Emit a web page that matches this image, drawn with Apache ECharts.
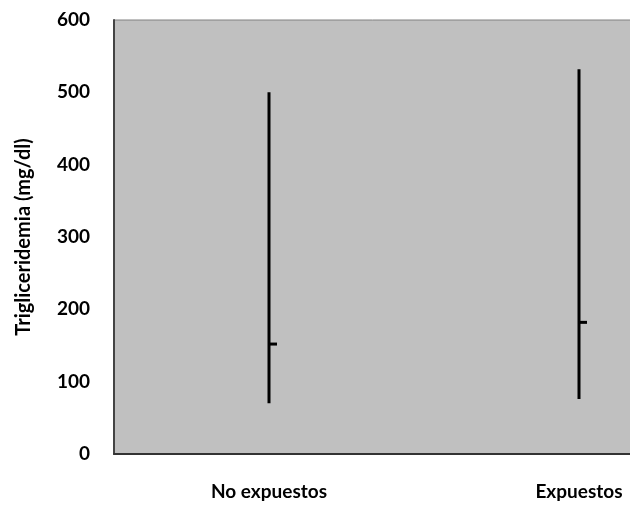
<!DOCTYPE html>
<html>
<head>
<meta charset="utf-8">
<script src="https://cdn.jsdelivr.net/npm/echarts@6/dist/echarts.min.js"></script>
<style>
  html, body { margin: 0; padding: 0; background: #fff; }
  #chart { width: 630px; height: 506px; }
</style>
</head>
<body>
<div id="chart"></div>
<script>
// Trigliceridemia range (min–max) and mean per group
const categories = ['No expuestos', 'Expuestos'];
const lowValues  = [70, 76];
const highValues = [500, 532];
const meanValues = [152, 182];
const yTicks = [0, 100, 200, 300, 400, 500, 600];

const FONT = 'Lato, "Open Sans", sans-serif';

const chart = echarts.init(document.getElementById('chart'), null, { renderer: 'canvas' });

const seriesData = categories.map((c, i) => [i, lowValues[i], highValues[i], meanValues[i]]);

chart.setOption({
  animation: false,
  grid: {
    left: 114, top: 20, width: 620, height: 434,
    outerBoundsMode: 'none',
    containLabel: false,
    show: true,
    backgroundColor: '#c0c0c0',
    borderColor: '#808080',
    borderWidth: 1
  },
  xAxis: {
    type: 'category',
    data: categories,
    boundaryGap: true,
    axisLine: { lineStyle: { color: '#333', width: 2 } },
    axisTick: { show: false },
    axisLabel: {
      color: '#000', fontFamily: FONT, fontWeight: 'bold', fontSize: 19,
      margin: 28
    }
  },
  yAxis: {
    type: 'value',
    min: yTicks[0], max: yTicks[yTicks.length - 1], interval: 100,
    name: 'Trigliceridemia (mg/dl)',
    nameLocation: 'middle',
    nameRotate: 90,
    nameGap: 80,
    nameTextStyle: { color: '#000', fontFamily: FONT, fontWeight: 'bold', fontSize: 20 },
    axisLine: { show: true, lineStyle: { color: '#444', width: 2 } },
    axisTick: { show: false },
    splitLine: { show: false },
    axisLabel: {
      color: '#000', fontFamily: FONT, fontWeight: 'bold', fontSize: 19,
      margin: 24
    }
  },
  series: [{
    type: 'custom',
    data: seriesData,
    encode: { x: 0, y: [1, 2, 3] },
    renderItem: function (params, api) {
      const x = api.value(0);
      const lo = api.coord([x, api.value(1)]);
      const hi = api.coord([x, api.value(2)]);
      const mn = api.coord([x, api.value(3)]);
      return {
        type: 'group',
        children: [
          {
            type: 'line',
            shape: { x1: lo[0], y1: lo[1], x2: hi[0], y2: hi[1] },
            style: { stroke: '#000', lineWidth: 3 }
          },
          {
            type: 'line',
            shape: { x1: mn[0], y1: mn[1], x2: mn[0] + 8, y2: mn[1] },
            style: { stroke: '#000', lineWidth: 3 }
          }
        ]
      };
    }
  }]
});
</script>
</body>
</html>
